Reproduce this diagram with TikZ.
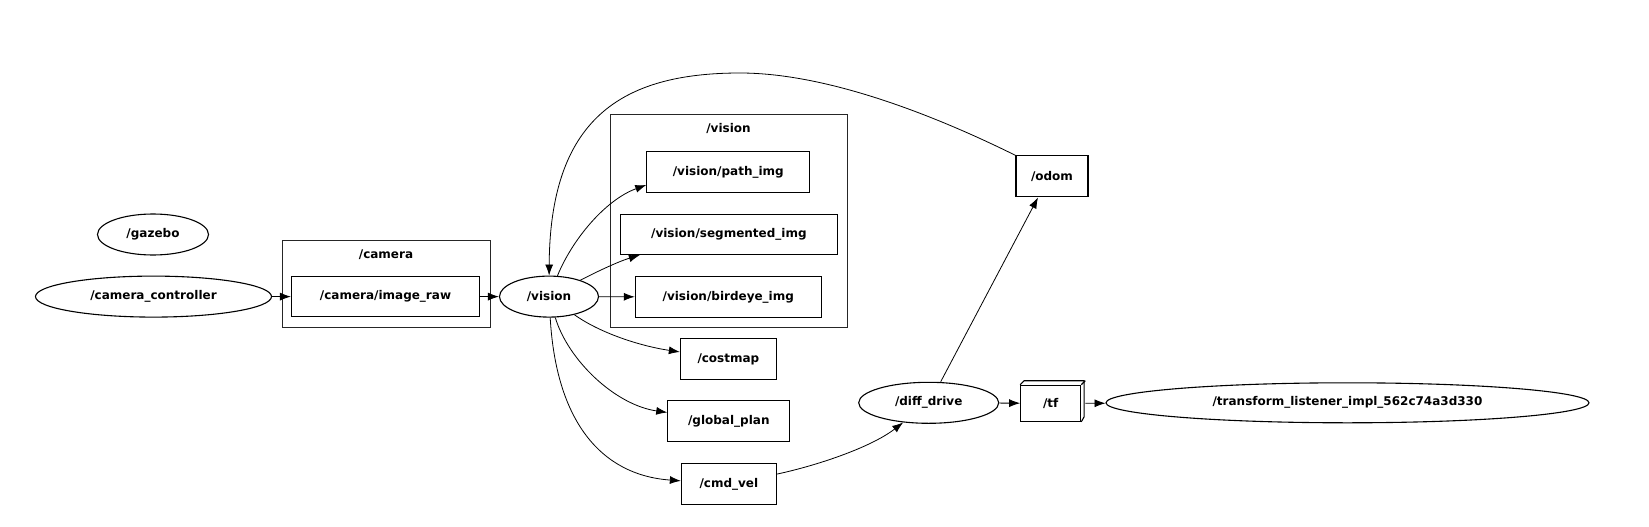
\documentclass[tikz,border=0pt]{standalone}
\usepackage{fontspec}
\setmainfont{DejaVu Sans}
\usetikzlibrary{shapes.geometric,arrows.meta}

\begin{document}
\begin{tikzpicture}[x=1pt, y=-1pt, >={Latex[length=11pt,width=8pt]},
  every node/.style={inner sep=0pt, font=\bfseries\fontsize{12}{14}\selectfont},
  rosnode/.style={draw, ellipse, line width=1.1pt, minimum height=41pt},
  topic/.style={draw, rectangle, line width=1.1pt, minimum height=41pt},
  cluster/.style={draw=black!85, rectangle, line width=0.9pt}]
\useasboundingbox (0,0) rectangle (1649,527);

% groups
\node (camcl) at (386,284) [cluster, minimum width=208pt, minimum height=86.3pt] {};
\node (camlabel) at (386,254.5) {/camera};
\node (viscl) at (728.85,220.85) [cluster, minimum width=237.7pt, minimum height=212.5pt] {};
\node (vislabel) at (728.5,128.5) {/vision};

% nodes and topics
\node (gazebo) at (153,234.5) [rosnode, minimum width=111pt] {/gazebo};
\node (camctrl) at (153.5,296.6) [rosnode, minimum width=236pt] {/camera\_controller};
\node (imageraw) at (385.5,296.6) [topic, minimum width=188pt, minimum height=40pt] {/camera/image\_raw};
\node (vision) at (549,296.6) [rosnode, minimum width=99pt] {/vision};
\node (pathimg) at (728.3,172) [topic, minimum width=163pt] {/vision/path\_img};
\node (segmented) at (728.9,234.5) [topic, minimum width=217pt, minimum height=40pt] {/vision/segmented\_img};
\node (birdeye) at (728.3,297) [topic, minimum width=186pt] {/vision/birdeye\_img};
\node (costmap) at (728.4,359.2) [topic, minimum width=96pt] {/costmap};
\node (globalplan) at (728.8,421.2) [topic, minimum width=122pt] {/global\_plan};
\node (cmdvel) at (728.9,484.3) [topic, minimum width=95pt] {/cmd\_vel};
\node (diffdrive) at (928.7,402.8) [rosnode, minimum width=140pt] {/diff\_drive};
\node (odom) at (1052,176.4) [topic, minimum width=72pt] {/odom};
\node (tf) at (1050.7,403.3) [topic, minimum width=60pt, minimum height=36pt] {/tf};
\node (listener) at (1347.5,402.8) [rosnode, minimum width=483pt, minimum height=40pt] {/transform\_listener\_impl\_562c74a3d330};

% 3d look of /tf
\draw[line width=1.1pt] (tf.north west) -- ++(4,-4) -- ++(60,0) -- ++(0,36) -- (tf.south east);
\draw[line width=1.1pt] (tf.north east) -- ++(4,-4);

\draw[->, thick] (camctrl) -- (imageraw);
\draw[->, thick] (imageraw) -- (vision);
\draw[->, thick] (odom.north west) .. controls (940,118) and (830,73) .. (740,73) .. controls (620,73) and (550,120) .. (vision);
\draw[->, thick] (vision) .. controls (572,240) and (605,200) .. ([yshift=-13pt]pathimg.west);
\draw[->, thick] (vision) .. controls (600,270) and (620,261) .. ([xshift=20pt]segmented.south west);
\draw[->, thick] (vision) -- (birdeye);
\draw[->, thick] (vision) .. controls (600,333) and (640,346) .. (costmap);
\draw[->, thick] (vision) .. controls (568,360) and (615,405) .. (globalplan);
\draw[->, thick] (vision) .. controls (556,420) and (600,475) .. (cmdvel);
\draw[->, thick] (cmdvel) .. controls (815,466) and (870,448) .. (diffdrive);
\draw[->, thick] ([xshift=12pt]diffdrive.north) -- ([xshift=-14pt]odom.south);
\draw[->, thick] (diffdrive) -- (tf);
\draw[->, thick] ([xshift=4pt]tf.east) -- (listener);
\end{tikzpicture}
\end{document}
